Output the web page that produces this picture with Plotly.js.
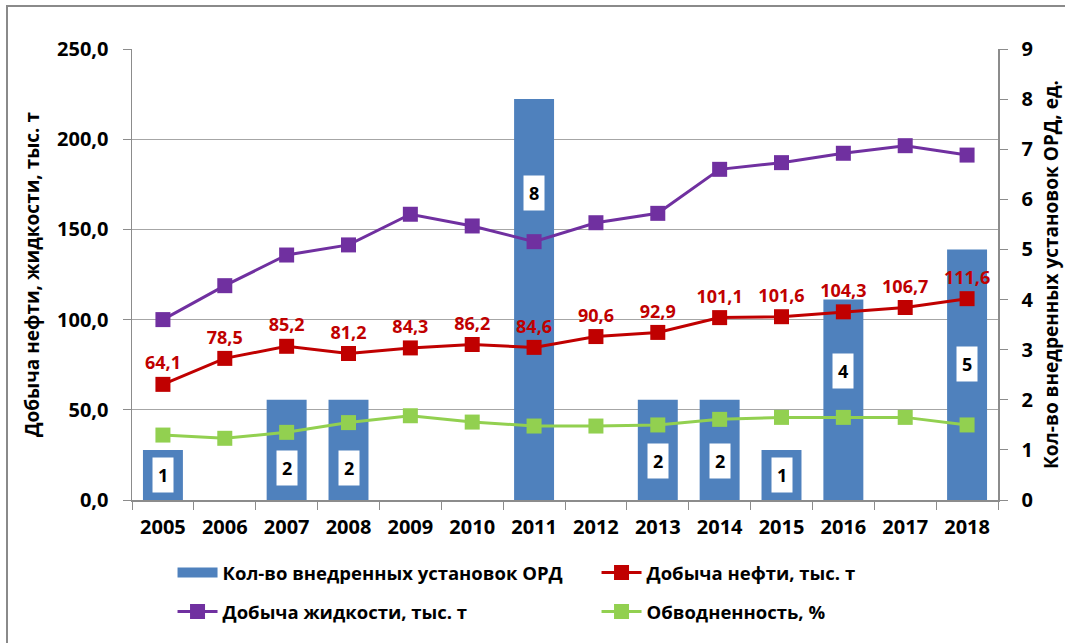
<!DOCTYPE html>
<html>
<head>
<meta charset="utf-8">
<script src="https://cdn.plot.ly/plotly-3.0.1.min.js"></script>
<style>
  html, body { margin: 0; padding: 0; background: #fff; }
  #chart { width: 1065px; height: 643px; position: absolute; left: 0; top: 0; }
  #frame { position: absolute; left: 6px; top: 5px; width: 1070px; height: 650px;
           border: 2px solid #8a8a8a; pointer-events: none; }
</style>
</head>
<body>
<div id="chart"></div>
<div id="frame"></div>
<script>
// ---- data ----
const years = ['2005','2006','2007','2008','2009','2010','2011','2012','2013','2014','2015','2016','2017','2018'];
const ordUnits = [1, 0, 2, 2, 0, 0, 8, 0, 2, 2, 1, 4, 0, 5];
const oilProduction = [64.1, 78.5, 85.2, 81.2, 84.3, 86.2, 84.6, 90.6, 92.9, 101.1, 101.6, 104.3, 106.7, 111.6];
const liquidProduction = [100.0, 118.8, 135.8, 141.4, 158.4, 151.9, 143.2, 153.7, 158.9, 183.3, 187.0, 192.2, 196.4, 191.2];
const waterCut = [36.0, 34.2, 37.5, 42.9, 46.7, 43.2, 41.0, 41.0, 41.6, 44.7, 45.8, 45.8, 45.8, 41.6];

const seriesNames = {
  ord: 'Кол-во внедренных установок ОРД',
  oil: 'Добыча нефти, тыс. т',
  liquid: 'Добыча жидкости, тыс. т',
  water: 'Обводненность, %'
};
const leftTitle = 'Добыча нефти, жидкости, тыс. т';
const rightTitle = 'Кол-во внедренных установок ОРД, ед.';

// ---- styling / layout ----
const FONT = '"Open Sans", "Noto Sans", sans-serif';
const C = { bar: '#4F81BD', oil: '#C00000', liquid: '#7030A0', water: '#92D050', axis: '#8c8c8c', grid: '#a6a6a6' };
// vertical placement of the white bar-label boxes (in bar-axis units), as in the original figure
const barLabelAt = [0.49, null, 0.64, 0.64, null, null, 6.13, null, 0.78, 0.78, 0.5, 2.57, null, 2.72];

const traces = [
  {
    type: 'bar', name: seriesNames.ord, x: years, y: ordUnits,
    xaxis: 'x', yaxis: 'y', showlegend: false,
    marker: { color: C.bar }, hoverinfo: 'x+y'
  },
  // legend swatch for the bars (wide rectangle like the original legend key)
  {
    type: 'scatter', mode: 'lines', name: seriesNames.ord,
    x: [null], y: [null], xaxis: 'x', yaxis: 'y',
    line: { color: C.bar, width: 12 }, legend: 'legend', hoverinfo: 'skip'
  },
  {
    type: 'scatter', mode: 'lines+markers+text', name: seriesNames.oil,
    x: years, y: oilProduction, xaxis: 'x', yaxis: 'y2', legend: 'legend',
    line: { color: C.oil, width: 3 },
    marker: { symbol: 'square', size: 15, color: C.oil },
    texttemplate: '%{y:.1f}', textposition: 'top center',
    textfont: { family: FONT, size: 18, color: C.oil, weight: 'bold' },
    cliponaxis: false
  },
  {
    type: 'scatter', mode: 'lines+markers', name: seriesNames.liquid,
    x: years, y: liquidProduction, xaxis: 'x', yaxis: 'y2', legend: 'legend2',
    line: { color: C.liquid, width: 3 },
    marker: { symbol: 'square', size: 15, color: C.liquid }
  },
  {
    type: 'scatter', mode: 'lines+markers', name: seriesNames.water,
    x: years, y: waterCut, xaxis: 'x', yaxis: 'y2', legend: 'legend2',
    line: { color: C.water, width: 3 },
    marker: { symbol: 'square', size: 15, color: C.water }
  }
];

const annotations = [];
years.forEach((yr, i) => {
  if (ordUnits[i] > 0 && barLabelAt[i] !== null) {
    annotations.push({
      x: i, y: barLabelAt[i], xref: 'x', yref: 'y',
      text: String(ordUnits[i]), showarrow: false,
      font: { family: FONT, size: 18, color: '#000', weight: 'bold' },
      bgcolor: '#ffffff', borderpad: 5
    });
  }
});

const tickFont = { family: FONT, size: 20, color: '#000', weight: 'bold' };
const titleFont = { family: FONT, size: 19, color: '#000', weight: 'bold' };
const legendFont = { family: FONT, size: 18.5, color: '#000', weight: 'bold' };

const legendBase = {
  orientation: 'h', xref: 'container', yref: 'container',
  x: 0.162, xanchor: 'left', yanchor: 'middle',
  entrywidth: 369, entrywidthmode: 'pixels',
  font: legendFont, traceorder: 'normal', itemwidth: 40,
  bgcolor: 'rgba(0,0,0,0)'
};

const layout = {
  width: 1065, height: 643,
  margin: { l: 132, r: 67, t: 49, b: 143 },
  paper_bgcolor: '#fff', plot_bgcolor: 'rgba(0,0,0,0)',
  separators: ', ',
  showlegend: true,
  font: { family: FONT, color: '#000' },
  xaxis: {
    type: 'category', categoryorder: 'array', categoryarray: years,
    range: [-0.5, years.length - 0.5], autorange: false,
    tickfont: tickFont, ticklabelstandoff: 8,
    showline: true, linecolor: C.axis, linewidth: 1.5,
    ticks: 'outside', ticklen: 8, tickcolor: C.axis, tickson: 'boundaries',
    showgrid: false, tickangle: 0
  },
  yaxis: {
    side: 'right', range: [0, 9], dtick: 1, tickformat: 'd',
    tickfont: tickFont, ticklabelstandoff: 10,
    showline: true, linecolor: C.axis, linewidth: 1.5,
    ticks: 'outside', ticklen: 8, tickcolor: C.axis,
    showgrid: false, zeroline: false,
    title: { text: rightTitle, font: titleFont, standoff: 12 }
  },
  yaxis2: {
    overlaying: 'y', side: 'left', range: [0, 250], dtick: 50, tickformat: '.1f',
    tickfont: tickFont, ticklabelstandoff: 10,
    showline: true, linecolor: C.axis, linewidth: 1.5,
    ticks: 'outside', ticklen: 8, tickcolor: C.axis,
    showgrid: true, gridcolor: C.grid, gridwidth: 1.2, zeroline: false,
    title: { text: leftTitle, font: titleFont, standoff: 12 }
  },
  bargap: 0.354,
  legend: Object.assign({}, legendBase, { y: 1 - 573 / 643 }),
  legend2: Object.assign({}, legendBase, { y: 1 - 612 / 643 }),
  annotations: annotations
};

Plotly.newPlot('chart', traces, layout, { displayModeBar: false, staticPlot: true });
</script>
</body>
</html>
